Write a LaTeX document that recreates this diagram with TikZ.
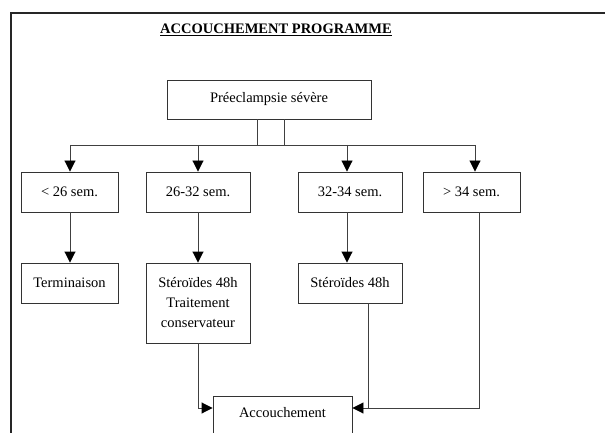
\documentclass[tikz,border=0pt]{standalone}
\usepackage{fontspec}
\setmainfont{Liberation Serif}
\usetikzlibrary{arrows.meta,calc}
\tikzset{
  box/.style={draw=black!80, line width=0.9pt, inner sep=0pt, align=center,
    font=\fontsize{14.5}{20}\selectfont},
  conn/.style={draw=black!75, line width=0.9pt},
  arr/.style={conn, -{Triangle[width=11pt,length=11pt,color=black]}},
  frame/.style={draw=black!85, line width=2pt}
}
\begin{document}
\begin{tikzpicture}[x=1pt,y=-1pt]
\useasboundingbox (0,0) rectangle (605,433);
\clip (0,0) rectangle (605,433);
% frame
\draw[frame] (11,440) -- (11,13) -- (620,13);
% title
\node[font=\fontsize{14.5}{17}\selectfont\bfseries] (title) at (276,30) {\underline{ACCOUCHEMENT PROGRAMME}};
% boxes
\node[box, minimum width=204pt, minimum height=39pt] (pre) at (269,99.5) {Préeclampsie sévère};
\node[box, minimum width=97pt, minimum height=40pt] (b1) at (69.5,192) {< 26 sem.};
\node[box, minimum width=104pt, minimum height=40pt] (b2) at (198,192) {26-32 sem.};
\node[box, minimum width=104pt, minimum height=40pt] (b3) at (350,192) {32-34 sem.};
\node[box, minimum width=97pt, minimum height=40pt] (b4) at (471.5,192) {> 34 sem.};
\node[box, minimum width=97pt, minimum height=40pt] (t1) at (69.5,283) {Terminaison};
\node[box, minimum width=104pt, minimum height=80pt] (t2) at (198,303) {Stéroïdes 48h\\Traitement\\conservateur};
\node[box, minimum width=104pt, minimum height=40pt] (t3) at (350,283) {Stéroïdes 48h};
\node[box, minimum width=139pt, minimum height=40pt] (acc) at (282.5,416) {};
\node[font=\fontsize{14.5}{17}\selectfont] (acct) at (282.5,413) {Accouchement};
% branch coordinates
\coordinate (p1) at (257,145);
\coordinate (p2) at (284,145);
\coordinate (x1) at (70,145);
\coordinate (x2) at (198,145);
\coordinate (x3) at (347,145);
\coordinate (x4) at (475,145);
\coordinate (j) at (0,408);
% connectors
\draw[conn] (p1 |- pre.south) -- (p1);
\draw[conn] (p2 |- pre.south) -- (p2);
\draw[conn] (x1) -- (x4);
\draw[arr] (x1) -- (x1 |- b1.north);
\draw[arr] (x2) -- (x2 |- b2.north);
\draw[arr] (x3) -- (x3 |- b3.north);
\draw[arr] (x4) -- (x4 |- b4.north);
\draw[arr] (x1 |- b1.south) -- (x1 |- t1.north);
\draw[arr] (x2 |- b2.south) -- (x2 |- t2.north);
\draw[arr] (x3 |- b3.south) -- (x3 |- t3.north);
\draw[arr] (t2.south) -- (t2.south |- j) -- (j -| acc.west);
\coordinate (r4) at (479,212);
\draw[arr] (r4 |- b4.south) -- (r4 |- j) -- (j -| acc.east);
\coordinate (r3) at (368,303);
\draw[conn] (r3 |- t3.south) -- (r3 |- j);
\end{tikzpicture}
\end{document}
